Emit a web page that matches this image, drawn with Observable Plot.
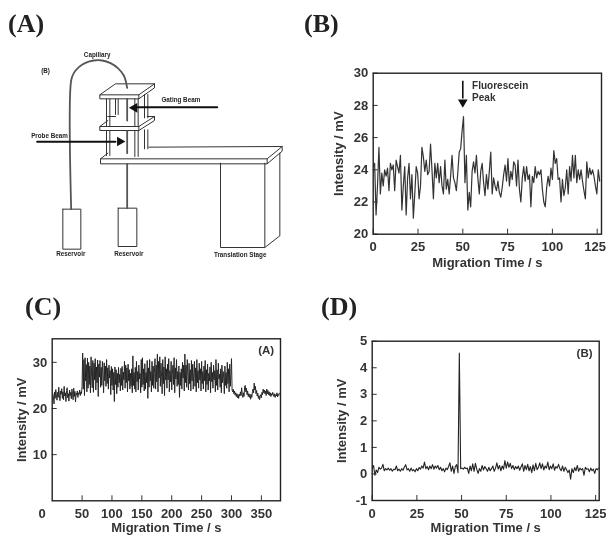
<!DOCTYPE html>
<html><head><meta charset="utf-8">
<script src="https://cdn.jsdelivr.net/npm/d3@7"></script>
<script src="https://cdn.jsdelivr.net/npm/@observablehq/plot@0.6"></script>
<style>
html,body{margin:0;padding:0;background:#fff;width:606px;height:535px;overflow:hidden}
#page{position:relative;width:606px;height:535px;filter:blur(0.45px)}
#page svg{position:absolute;background:transparent;overflow:visible}
.letter{position:absolute;font:bold 26px "Liberation Serif",serif;color:#222;line-height:26px}
</style></head><body><div id="page"></div>
<script>
// ---------- Panel B: step 0.8 s
const bStep = 0.8;
const bValues = [
24.2,24.4,21.2,23.0,25.4,22.5,23.8,23.0,24.0,23.6,
24.1,22.7,24.4,24.0,24.3,22.7,24.6,24.2,23.8,24.9,
21.5,23.0,24.2,21.2,23.5,24.4,22.2,23.7,21.0,22.5,
24.2,23.8,22.2,23.0,25.4,24.8,23.9,24.6,23.7,23.9,
25.6,24.0,22.2,24.4,23.5,24.4,23.2,24.2,23.0,22.5,
24.6,22.8,23.4,22.5,23.6,24.9,23.5,23.2,22.7,23.8,
25.1,25.3,26.4,27.3,23.2,24.9,21.5,22.6,21.7,23.9,
24.5,23.8,24.9,23.5,22.5,23.9,24.4,23.2,22.4,23.7,
22.8,23.9,25.1,22.5,23.5,23.0,22.7,23.3,22.6,22.3,
22.9,23.7,24.3,23.3,24.7,23.0,23.9,23.4,24.5,24.3,
23.0,24.6,22.8,22.0,23.5,24.2,23.3,24.2,23.4,23.7,
21.7,23.6,23.2,24.2,23.5,23.9,23.7,24.0,22.8,22.0,
21.7,22.9,23.6,23.0,24.1,23.4,25.2,24.4,24.7,23.4,
23.5,22.0,23.4,22.4,22.9,24.0,22.5,24.2,23.3,24.9,
23.5,24.9,23.2,24.0,23.4,24.0,23.3,22.7,22.2,24.5,
23.5,24.1,23.7,24.0,23.6,23.0,22.5,24.0,23.3
];
// ---------- Panel C: step 1 s
const cBaseline = [
23.2,22.5,21.0,23.6,22.2,24.1,23.0,21.8,23.5,22.4,24.6,22.9,21.7,23.8,23.1,24.3,22.2,23.6,21.9,24.8,
22.7,23.4,21.5,23.9,24.5,22.3,23.2,21.6,24.0,22.8,23.5,22.1,24.2,23.0,21.9,24.4,22.6,23.7,21.4,23.3,
22.9,23.8,22.4,23.4,23.1,24.0,22.8,23.6,23.2,24.9];
const cGated = [
32.0,24.2,30.6,22.8,31.0,26.0,29.5,23.6,30.9,24.4,
30.0,25.2,29.2,23.4,31.2,27.0,24.5,30.4,23.5,29.8,
26.2,30.8,24.0,29.0,25.6,30.5,22.6,29.6,26.8,30.4,
24.6,28.9,25.0,30.2,27.2,23.4,29.9,26.0,29.2,24.8,
30.6,25.4,28.8,24.2,29.4,26.6,28.2,23.0,29.1,25.0,
28.6,24.0,27.8,21.5,29.0,25.2,28.4,23.2,27.6,24.6,
28.9,25.6,27.4,23.8,28.7,25.0,29.1,24.0,27.9,26.2,
30.2,24.4,29.4,25.6,28.8,23.6,29.6,26.0,28.4,24.2,
27.6,24.8,28.6,23.4,31.4,25.0,27.8,24.2,28.9,23.6,
30.2,25.8,28.0,24.0,29.4,26.4,27.6,23.4,30.6,24.6,
31.0,25.2,28.6,23.8,29.7,24.2,27.8,25.6,30.4,22.2,
28.8,24.6,30.6,26.0,28.0,23.6,30.2,25.0,29.2,24.4,
27.6,30.8,24.2,29.4,25.8,31.8,23.6,30.2,26.6,31.2,
24.8,29.8,27.0,23.2,30.6,25.4,29.0,22.8,31.2,26.2,
28.6,24.4,29.6,26.2,30.8,23.6,28.2,25.8,30.2,24.0,
27.4,29.4,25.2,31.0,23.4,28.8,26.4,30.6,24.8,28.0,
25.2,29.2,22.4,27.8,25.0,28.6,24.2,30.0,26.6,29.4,
23.8,31.8,25.6,29.4,24.6,30.6,27.2,24.0,29.8,25.4,
28.4,23.8,30.4,26.0,29.6,24.2,27.8,30.2,24.8,28.8,
23.6,30.6,25.6,28.2,24.4,29.8,26.2,28.6,23.8,30.2,
25.4,28.0,24.2,29.2,26.0,30.4,23.6,28.4,25.2,29.6,
24.0,27.6,26.0,29.0,23.4,30.0,25.8,27.8,24.4,29.4,
26.2,28.2,23.6,30.6,25.0,28.4,24.0,29.8,26.4,27.4,
24.6,28.6,23.4,29.4,25.6,28.0,26.6,23.2,29.2,25.0,
27.8,24.4,30.0,25.4,28.6,23.6,29.6,24.8,27.4,30.8];
const cTail = [
24.0,23.6,24.2,23.2,23.8,22.9,23.4,22.6,23.2,22.3,23.0,22.2,23.1,22.7,23.6,22.8,24.5,23.0,22.4,23.4,
22.6,24.8,25.0,23.6,24.4,23.0,23.8,22.6,23.2,22.4,23.1,22.0,23.0,22.4,23.6,24.2,23.4,25.5,24.0,24.8,
23.2,23.9,22.7,23.3,22.2,22.8,21.9,22.6,23.0,22.3,23.5,23.0,24.2,23.4,24.0,23.2,23.8,22.8,24.2,23.2,
23.9,23.0,23.6,22.8,23.4,22.6,23.2,22.9,23.5,23.0,22.6,23.2,22.4,23.0,22.7,23.4,22.5,23.1,22.8,23.3];
// ---------- Panel D: step 0.75 s
const dStep = 0.75;
const dValues = [
0.2,0.32,-0.05,0.15,0.05,0.25,0.18,0.22,0.36,0.12,0.2,0.15,0.22,0.14,0.2,0.1,0.18,0.16,0.3,0.12,
0.18,0.1,0.2,0.14,0.26,0.35,0.15,0.2,0.1,0.22,0.12,0.16,0.08,0.2,0.12,0.24,0.18,0.3,0.22,0.45,
0.2,0.28,0.16,0.3,0.2,0.35,0.18,0.3,0.22,0.32,0.16,0.25,0.12,0.2,0.08,0.22,0.16,0.28,0.42,0.1,
0.3,0.02,0.28,0.35,0.05,4.55,0.2,0.22,0.18,0.25,0.2,0.22,0.02,0.3,0.12,0.38,0.1,0.4,0.18,0.02,
0.2,0.1,0.32,0.15,0.28,0.2,0.1,0.25,0.12,0.2,0.3,0.1,0.22,0.42,0.18,0.32,0.12,0.3,0.18,0.5,
0.22,0.45,0.25,0.4,0.2,0.32,0.16,0.28,0.2,0.3,0.14,0.26,0.38,0.1,0.32,0.16,0.36,0.12,0.28,0.05,
0.34,0.12,0.4,0.16,0.25,0.42,0.2,0.38,0.15,0.3,0.22,0.45,0.16,0.3,0.2,0.38,0.14,0.28,0.22,0.36,
0.2,0.12,0.3,0.1,0.25,0.16,0.05,0.15,-0.2,0.2,0.05,0.24,0.12,0.32,0.1,0.22,0.15,0.2,-0.05,0.25,
0.18,0.2,0.08,0.22,0.12,0.18,0.02,0.2,0.16,0.22];
// ---------- Panel A schematic, in drawing units
const diagramLines = [
 [[298,283],[345,250],[462,250],[415,283],[298,283],[298,295],[415,295],[415,283]],
 [[415,295],[462,262],[462,250]],
 [[298,378],[322,360]],[[322,348],[345,348]],[[440,348],[462,348],[415,378],[298,378],[298,390],[415,390],[415,378]],
 [[415,390],[462,360],[462,348]],
 [[300,475],[322,458]],[[445,440],[845,438],[800,475],[300,475],[300,490],[800,490],[800,475]],
 [[800,490],[845,452],[845,438]],
 [[660,488],[660,741],[793,741],[793,488]],[[793,741],[838,706],[838,458]],
 [[187,626],[241,626],[241,746],[187,746],[187,626]],
 [[353,623],[409,623],[409,738],[353,738],[353,623]],
 [[318,295],[318,378]],[[328,295],[328,378]],[[403,295],[403,378]],[[413,295],[413,378]],
 [[318,390],[318,465]],[[328,390],[328,465]],[[403,390],[403,468]],[[413,390],[413,468]],
 [[432,282],[432,352]],[[442,282],[442,352]],[[432,388],[432,445]],[[442,388],[442,445]],
 [[345,295],[345,342]],[[353,295],[353,342]]
];
const capillaryLines = [
 [[212,626],[212,240],[220,218],[235,200],[255,187],[280,180],[305,180],[330,188],[352,203],[370,225],[380,262]],
 [[380,295],[380,360]],[[380,392],[380,458]],[[380,490],[380,623]]
];
const beamLines = [[[650,320],[410,320]],[[110,424],[345,424]]];
const beamHeads = [[402,322,"left"],[358,423,"right"]];
const diagramLabels = [
 ["Capillary",290,163],["(B)",135,212],["Gating Beam",541,299],["Probe Beam",147,406],
 ["Reservoir",211,760],["Reservoir",385,759],["Translation Stage",719,762]
];
const letters = [["(A)",8,11],["(B)",304,11],["(C)",25,294],["(D)",321,294]];
const xTicks125 = [0,25,50,75,100,125];
const xTicksC = [50,100,150,200,250,300,350];

const ink = "#222";
const font = '"Liberation Sans",Arial,sans-serif';
const page = document.getElementById("page");
function place(svg,left,top){svg.style.left=left+"px";svg.style.top=top+"px";page.appendChild(svg);}
for(const [t,x,y] of letters){const d=document.createElement("div");d.className="letter";d.textContent=t;d.style.left=x+"px";d.style.top=y+"px";page.appendChild(d);}

function axes(xTicks,yTicks,yOff,xOff,fmtX=d=>`${d}`){
  return [
    Plot.axisX({ticks:xTicks,tickSize:-5,tickPadding:13,tickFormat:fmtX,label:"Migration Time / s",labelAnchor:"center",labelArrow:false,labelOffset:xOff,fontSize:13,fontWeight:"bold",fill:"#333",stroke:"#333"}),
    Plot.axisY({ticks:yTicks,tickSize:-5,tickPadding:10,tickFormat:d=>`${d}`,label:"Intensity / mV",labelAnchor:"center",labelArrow:false,labelOffset:yOff,fontSize:13,fontWeight:"bold",fill:"#333",stroke:"#333"}),
    Plot.frame({stroke:ink,strokeWidth:1.4})
  ];
}
const common = {style:{fontFamily:font,fontSize:"13px",fontWeight:"bold",background:"transparent",overflow:"visible"}};

// Panel A
const flat = a => a.flatMap((l,i)=>l.map(p=>({i,x:p[0],y:p[1]})));
place(Plot.plot({...common,width:300,height:230,margin:0,axis:null,
  x:{domain:[0,900]},y:{domain:[810,120]},
  marks:[
    Plot.line(flat(diagramLines),{x:"x",y:"y",z:"i",stroke:"#333",strokeWidth:1}),
    Plot.line(flat(capillaryLines),{x:"x",y:"y",z:"i",stroke:"#555",strokeWidth:1.8,curve:"catmull-rom"}),
    Plot.line(flat(beamLines),{x:"x",y:"y",z:"i",stroke:"#111",strokeWidth:2}),
    Plot.dot(beamHeads,{x:"0",y:"1",symbol:"triangle",r:3.6,fill:"#111",rotate:d=>d[2]==="left"?-90:90}),
    Plot.text(diagramLabels,{x:"1",y:"2",text:"0",fontSize:6.3,fontWeight:"bold",fill:"#222"})
  ]}),0,40);

// Panel B
place(Plot.plot({...common,width:303,height:215,marginLeft:69.7,marginRight:5,marginTop:12.7,marginBottom:41.3,
  x:{domain:[0,127.4]},y:{domain:[20,30]},
  marks:[
    Plot.line(bValues,{x:(d,i)=>i*bStep,y:d=>d,stroke:"#333",strokeWidth:1.2,clip:true}),
    Plot.ruleX([50],{y1:29.5,y2:28.4,stroke:"#111",strokeWidth:1.6}),
    Plot.dot([50],{x:d=>d,y:[28.2],symbol:"triangle",r:3.6,fill:"#111",rotate:180}),
    Plot.text(["Fluorescein"],{x:[55.2],y:[29.2],textAnchor:"start",fontSize:10,fontWeight:"bold",fill:"#333"}),
    Plot.text(["Peak"],{x:[55.2],y:[28.5],textAnchor:"start",fontSize:10,fontWeight:"bold",fill:"#333"}),
    Plot.text(["125"],{x:[125],y:[20],dy:12.5,dx:-2,fontSize:13,fontWeight:"bold",fill:"#333"}),
    ...axes(xTicks125,[20,22,24,26,28,30],39,33,d=>d===125?"":`${d}`)
  ]}),303,60);

// Panel C
const cValues = [...cBaseline,...cGated,...cTail];
place(Plot.plot({...common,width:300,height:205,marginLeft:51.7,marginRight:20,marginTop:8.3,marginBottom:34.7,
  x:{domain:[0,382]},y:{domain:[0,35.1]},
  marks:[
    Plot.line(cValues,{x:(d,i)=>i+1,y:d=>d,stroke:"#222",strokeWidth:0.95,clip:true}),
    Plot.text(["0"],{x:[-17],y:[-2.75],fontSize:13,fontWeight:"bold",fill:"#333"}),
    Plot.text(["(A)"],{x:[358],y:[32.7],fontSize:11.5,fontWeight:"bold",fill:"#333"}),
    ...axes(xTicksC,[10,20,30],35,31)
  ]}),0,330);

// Panel D
place(Plot.plot({...common,width:303,height:205,marginLeft:68.7,marginRight:7.3,marginTop:10.7,marginBottom:35,
  x:{domain:[0,127]},y:{domain:[-1,5]},
  marks:[
    Plot.line(dValues,{x:(d,i)=>i*dStep,y:d=>d,stroke:"#222",strokeWidth:1.1,clip:true}),
    Plot.text(["(B)"],{x:[118.8],y:[4.54],fontSize:11.5,fontWeight:"bold",fill:"#333"}),
    ...axes(xTicks125,[-1,0,1,2,3,4,5],35,31)
  ]}),303,330);
</script></body></html>
